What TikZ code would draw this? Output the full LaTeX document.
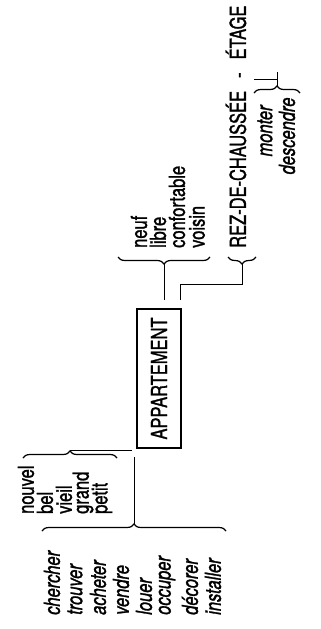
\documentclass[tikz,border=0pt]{standalone}
\usepackage{fontspec}
\setmainfont{TeX Gyre Heros}[FakeStretch=0.75, FakeBold=1.2]
\usetikzlibrary{decorations.pathreplacing}

\begin{document}
\begin{tikzpicture}[
  x=1pt, y=-1pt,
  word/.style={rotate=90, anchor=west, inner sep=0pt,
               font=\fontsize{22}{26}\selectfont},
  verb/.style={word, font=\fontsize{22}{26}\selectfont\itshape},
  curly/.style={decorate, decoration={brace, amplitude=7pt}, line width=1.2pt},
  lien/.style={line width=1pt},
  cadre/.style={draw, line width=1.8pt, rotate=90, inner sep=0pt,
                minimum width=139pt, minimum height=44pt,
                font=\fontsize{22}{26}\selectfont}
]
\useasboundingbox (0,0) rectangle (321,629);

% le nom au centre
\node[cadre] (app) at (159,378.5) {APPARTEMENT};

% verbes
\node[verb] (chercher) at (52,615) {chercher};
\node[verb] (trouver) at (75,615) {trouver};
\node[verb] (acheter) at (98,615) {acheter};
\node[verb] (vendre) at (121,615) {vendre};
\node[verb] (louer) at (144,615) {louer};
\node[verb] (occuper) at (167,615) {occuper};
\node[verb] (decorer) at (190,615) {décorer};
\node[verb] (installer) at (213,615) {installer};

% adjectifs avant le nom
\node[word] (nouvel) at (26,514) {nouvel};
\node[word] (bel) at (45,514) {bel};
\node[word] (vieil) at (64,514) {vieil};
\node[word] (grand) at (83,514) {grand};
\node[word] (petit) at (102,514) {petit};

% adjectifs apres le nom
\node[word] (neuf) at (139,248) {neuf};
\node[word] (libre) at (158,248) {libre};
\node[word] (confortable) at (177,248) {confortable};
\node[word] (voisin) at (197,248) {voisin};

\node[word] (rez) at (236,248) {REZ-DE-CHAUSSÉE\hspace{13pt}-\hspace{13pt}ÉTAGE};
\node[verb, anchor=center] (monter) at (265,131) {monter};
\node[verb, anchor=center] (descendre) at (287,136) {descendre};

% accolades
\draw[curly] (42,531) -- (226,531);
\draw[curly] (23,458) -- (117,458);
\draw[curly] (210,257) -- (118,257);
\draw[curly] (256,257) -- (228,257);
\draw[curly] (254,93) -- (300,93);

\coordinate (vtip) at (134,524);
\coordinate (vend) at (134,457);
\coordinate (atip) at (70,450);
\coordinate (aend) at (132,450);
\coordinate (ntip) at (164,264);
\coordinate (nend) at (164,300);
\coordinate (rtip) at (242,264);
\coordinate (rend) at (180,300);
\coordinate (mtip) at (277,86);
\coordinate (mtop) at (277,72);
\coordinate (etage) at (254,79);

\draw[lien] (vtip) -- (vend);
\draw[lien] (atip) -- (aend);
\draw[lien] (ntip) -- (nend);
\draw[lien] (rend) -- ++(0,-16) -| (rtip);
\draw[lien] (mtip) -- (mtop);
\draw[lien] (etage) -- (etage -| mtip);
\end{tikzpicture}
\end{document}
